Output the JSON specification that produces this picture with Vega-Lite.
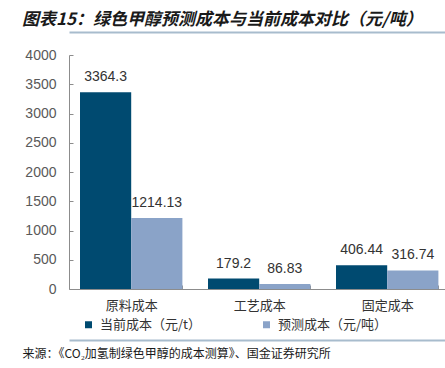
{
  "$schema": "https://vega.github.io/schema/vega-lite/v6.json",
  "width": 376,
  "height": 234,
  "autosize": "none",
  "padding": {"left": 69, "top": 55, "right": 0, "bottom": 79},
  "background": "white",
  "title": {
    "text": "图表15：绿色甲醇预测成本与当前成本对比（元/吨）",
    "anchor": "start",
    "frame": "group",
    "dx": -47,
    "offset": 3,
    "font": "Noto Sans CJK SC",
    "fontSize": 17,
    "fontWeight": "bold",
    "fontStyle": "italic",
    "color": "#1a1a1a"
  },
  "config": {
    "view": {"stroke": null},
    "axis": {"grid": false}
  },
  "data": {
    "values": [
      {"category": "原料成本", "series": "当前成本（元/t）", "value": 3364.3},
      {"category": "原料成本", "series": "预测成本（元/吨）", "value": 1214.13},
      {"category": "工艺成本", "series": "当前成本（元/t）", "value": 179.2},
      {"category": "工艺成本", "series": "预测成本（元/吨）", "value": 86.83},
      {"category": "固定成本", "series": "当前成本（元/t）", "value": 406.44},
      {"category": "固定成本", "series": "预测成本（元/吨）", "value": 316.74}
    ]
  },
  "encoding": {
    "xOffset": {"field": "series", "type": "nominal", "sort": ["当前成本（元/t）", "预测成本（元/吨）"]},
    "y": {
      "field": "value",
      "type": "quantitative",
      "scale": {"domain": [0, 4000], "nice": false},
      "axis": {
        "title": null,
        "format": "d",
        "values": [0, 500, 1000, 1500, 2000, 2500, 3000, 3500, 4000],
        "labelFont": "Liberation Sans",
        "labelFontSize": 14,
        "labelColor": "#595959",
        "labelPadding": 17,
        "tickSize": -4,
        "tickColor": "#8c8c8c",
        "domainColor": "#8c8c8c"
      }
    }
  },
  "layer": [
    {
      "mark": {"type": "bar"},
      "encoding": {
        "x": {
          "field": "category",
          "type": "nominal",
          "sort": ["原料成本", "工艺成本", "固定成本"],
          "scale": {"paddingInner": 0.2, "paddingOuter": 0.06875, "align": 0.625},
          "axis": {
            "title": null,
            "labelAngle": 0,
            "labelFont": "Noto Sans CJK SC",
            "labelFontSize": 13,
            "labelColor": "#333333",
            "labelPadding": 14,
            "tickBand": "extent",
            "tickSize": -4,
            "tickColor": "#8c8c8c",
            "domainColor": "#8c8c8c"
          }
        },
        "color": {
          "field": "series",
          "type": "nominal",
          "sort": ["当前成本（元/t）", "预测成本（元/吨）"],
          "scale": {"range": ["#004a70", "#8aa3c8"]},
          "legend": {
            "title": null,
            "orient": "none",
            "legendX": 13,
            "legendY": 263,
            "direction": "horizontal",
            "padding": 0,
            "symbolType": "square",
            "symbolSize": 49,
            "symbolStrokeWidth": 0,
            "labelFont": "Noto Sans CJK SC",
            "labelFontSize": 13,
            "labelColor": "#333333",
            "labelOffset": 5,
            "columnPadding": 58
          }
        }
      }
    },
    {
      "mark": {"type": "text", "baseline": "bottom", "dy": -8, "font": "Liberation Sans", "fontSize": 14, "color": "#333333"},
      "encoding": {
        "x": {
          "field": "category",
          "type": "nominal",
          "sort": ["原料成本", "工艺成本", "固定成本"],
          "axis": {
            "orient": "top",
            "offset": 23,
            "title": null,
            "labels": false,
            "ticks": false,
            "domainColor": "#a8bccd",
            "domainWidth": 2
          }
        },
        "text": {"field": "value", "type": "quantitative", "format": ""}
      }
    },
    {
      "mark": {"type": "text", "text": ""},
      "encoding": {
        "x": {
          "field": "category",
          "type": "nominal",
          "sort": ["原料成本", "工艺成本", "固定成本"],
          "axis": {
            "orient": "bottom",
            "offset": 51,
            "title": "来源：《CO₂加氢制绿色甲醇的成本测算》、国金证券研究所",
            "titleFont": "Noto Sans CJK SC",
            "titleFontSize": 12,
            "titleFontWeight": "normal",
            "titleColor": "#1a1a1a",
            "titleAnchor": "start",
            "titleAlign": "left",
            "titleX": -47,
            "titlePadding": 8,
            "labels": false,
            "ticks": false,
            "domainColor": "#a8bccd",
            "domainWidth": 2
          }
        }
      }
    }
  ],
  "resolve": {"axis": {"x": "independent"}}
}
